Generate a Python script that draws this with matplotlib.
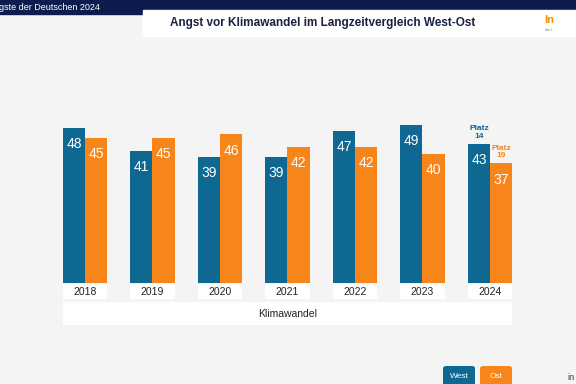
import numpy as np
import matplotlib
matplotlib.use("Agg")
import matplotlib.pyplot as plt
from matplotlib.patches import Rectangle, FancyBboxPatch

plt.rcParams['font.family'] = ['Liberation Sans', 'DejaVu Sans']

years = ["2018", "2019", "2020", "2021", "2022", "2023", "2024"]
west = [48, 41, 39, 39, 47, 49, 43]
ost = [45, 45, 46, 42, 42, 40, 37]
category = "Klimawandel"
title = "Angst vor Klimawandel im Langzeitvergleich West-Ost"
header = "gste der Deutschen 2024"

BLUE = "#0f6892"
ORANGE = "#f8851a"
NAVY = "#0d1b4f"
BG = "#f4f4f4"

W, H = 576, 384
fig = plt.figure(figsize=(W / 100, H / 100), dpi=100, facecolor=BG)

def fx(px):
    return px / W

def fy(py):
    return 1 - py / H

# header band + title box
fig.patches.append(Rectangle((0, fy(14)), 1, 14 / H, transform=fig.transFigure,
                             color=NAVY, zorder=0))
fig.patches.append(Rectangle((fx(143), fy(36)), 1 - fx(143), 26 / H,
                             transform=fig.transFigure, color="white", zorder=1))
fig.text(fx(-1), fy(7), header, color="white", fontsize=6.5, va="center", ha="left")
fig.text(fx(170), fy(23), title, color="#1b2142", fontsize=8.5, fontweight="bold",
         va="center", ha="left", zorder=2)
fig.text(fx(544), fy(20), "In", color="#f39200", fontsize=8, fontweight="bold",
         va="center", ha="left", zorder=2)
fig.text(fx(545), fy(30), "der I", color="#6b7a8c", fontsize=2.5, va="center",
         ha="left", zorder=2)
fig.text(fx(567), fy(377), "in", color="#2a3550", fontsize=6.5, va="center", ha="left")

# axes: group spacing 67.5px, y scale 3.23 px/unit, baseline at y=283px
x0_px, step = 85, 67.5
xl, xr = -0.7, 6.7
ytop = 60
ax_left = x0_px + xl * step
ax_w = (xr - xl) * step
ax_h = ytop * 3.23
ax = fig.add_axes([fx(ax_left), fy(283), ax_w / W, ax_h / H])
ax.set_xlim(xl, xr)
ax.set_ylim(0, ytop)
ax.axis("off")

x = np.arange(len(years))
bw = 0.326
ax.bar(x - bw / 2, west, bw, color=BLUE, lw=0)
ax.bar(x + bw / 2, ost, bw, color=ORANGE, lw=0)
for i in x:
    ax.text(i - bw / 2, west[i] - 5, str(west[i]), color="white", fontsize=10,
            ha="center", va="center")
    ax.text(i + bw / 2, ost[i] - 5, str(ost[i]), color="white", fontsize=10,
            ha="center", va="center")
    # year boxes
    ax.add_patch(Rectangle((i - 0.326, -4.95), 0.652, 4.6, color="white",
                           clip_on=False, lw=0))
    ax.text(i, -2.65, years[i], color="#222222", fontsize=7.5, ha="center",
            va="center", clip_on=False)

ax.add_patch(Rectangle((-0.326, -13.0), 6.652, 7.1, color="white", clip_on=False, lw=0))
ax.text(3, -9.45, category, color="#222222", fontsize=7.5, ha="center", va="center")

# Platz annotations
last = len(years) - 1
ax.text(last - bw / 2, west[last] + 1.3, "Platz\n14", color=BLUE, fontsize=6,
        fontweight="bold", ha="center", va="bottom", linespacing=1.15)
ax.text(last + bw / 2, ost[last] + 1.3, "Platz\n19", color=ORANGE, fontsize=6,
        fontweight="bold", ha="center", va="bottom", linespacing=1.15)

# legend boxes
for lx, lab, col in [(443, "West", BLUE), (480, "Ost", ORANGE)]:
    fig.patches.append(FancyBboxPatch((fx(lx), fy(386)), 32 / W, 20 / H,
                                      boxstyle="round,pad=0,rounding_size=0.006",
                                      transform=fig.transFigure, color=col, lw=0))
    fig.text(fx(lx + 16), fy(376), lab, color="white", fontsize=6, ha="center",
             va="center")

fig.savefig("out.png", dpi=100, facecolor=BG)
